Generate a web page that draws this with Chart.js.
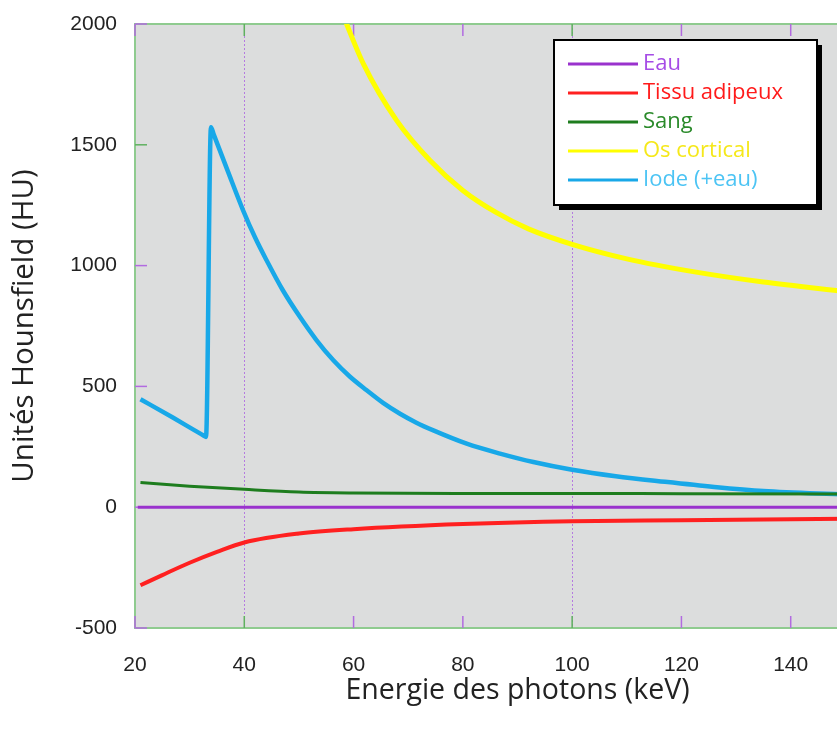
<!DOCTYPE html>
<html>
<head>
<meta charset="utf-8">
<script src="https://cdn.jsdelivr.net/npm/chart.js@4/dist/chart.umd.min.js"></script>
<style>
  body { margin: 0; background: #fff; }
  #cadre { width: 837px; height: 733px; overflow: hidden; }
</style>
</head>
<body>
<div id="cadre"><canvas id="graphHU" width="930" height="733"></canvas></div>
<script>
// valeurs (keV -> HU)
const eauKeV = [20.5, 150];
const eauHU = [0, 0];

const tissuKeV = [21, 25, 30, 35, 40, 50, 60, 80, 100, 120, 150];
const tissuHU = [-323, -281, -230, -185, -146, -109, -91, -70, -58, -54, -48];

const sangKeV = [21, 30, 40, 50, 60, 80, 100, 120, 150];
const sangHU = [102, 87, 74, 63, 59, 57, 57, 56, 55];

const osKeV = [58, 61.8, 67.9, 74, 80, 86, 92, 100, 110, 122.7, 135, 150];
const osHU = [2040, 1835, 1600, 1435, 1311, 1221, 1152, 1088, 1028, 973, 932, 893];

const iodeKeV = [21, 27, 31, 32.6, 33, 33.9, 34.4, 37, 39.8, 42, 44.1, 47, 50.2, 53.2, 56.3, 59.3, 62.4, 65.4, 68.5, 71.5, 74.6, 80.7, 86.8, 92.9, 100, 108, 117, 126, 135, 150];
const iodeHU = [447, 370, 317, 296, 291, 1573, 1543, 1390, 1228, 1115, 1021, 900, 787, 692, 608, 541, 484, 432, 387, 350, 318, 263, 222, 187, 155, 128, 105, 84, 67, 52];

const seriesNoms = ['Eau', 'Tissu adipeux', 'Sang', 'Os cortical', 'Iode (+eau)'];
const couleursLignes = ['#9a32cd', '#ff2020', '#1e7d1e', '#ffff00', '#18a8e8'];
const couleursTextes = ['#a64ce6', '#ff1a1a', '#2a8a2a', '#f5e81a', '#4cc4f4'];
const epaisseurs = [3, 4, 3, 5, 4.5];

const xTicks = [20, 40, 60, 80, 100, 120, 140, 160];
const yTicks = [-500, 0, 500, 1000, 1500, 2000];

function points(xs, ys) {
  return xs.map((x, i) => ({ x: x, y: ys[i] }));
}

// fond gris, cadre vert et petites graduations intérieures
const cadrePlugin = {
  id: 'cadre',
  beforeDraw(chart) {
    const { ctx, chartArea: a } = chart;
    ctx.save();
    ctx.fillStyle = '#dcdddd';
    ctx.fillRect(a.left, a.top, a.right - a.left, a.bottom - a.top);
    ctx.restore();
  },
  beforeDatasetsDraw(chart) {
    const { ctx, chartArea: a, scales } = chart;
    ctx.save();
    ctx.strokeStyle = '#8fcb8f';
    ctx.lineWidth = 2;
    ctx.strokeRect(a.left, a.top, a.right - a.left, a.bottom - a.top);
    ctx.lineWidth = 1.5;
    xTicks.forEach(v => {
      const px = scales.x.getPixelForValue(v);
      ctx.strokeStyle = (v === 40 || v === 100) ? '#5fb05f' : '#b26be0';
      ctx.beginPath();
      ctx.moveTo(px, a.bottom); ctx.lineTo(px, a.bottom - 12);
      ctx.moveTo(px, a.top); ctx.lineTo(px, a.top + 12);
      ctx.stroke();
    });
    yTicks.forEach(v => {
      const py = scales.y.getPixelForValue(v);
      ctx.strokeStyle = (v === 1500) ? '#5fb05f' : '#b26be0';
      ctx.beginPath();
      ctx.moveTo(a.left, py); ctx.lineTo(a.left + 12, py);
      ctx.stroke();
    });
    ctx.restore();
  },
  afterDraw(chart) {
    const { ctx } = chart;
    const bx = 554, by = 40, bw = 263, bh = 165;
    ctx.save();
    ctx.fillStyle = '#000';
    ctx.fillRect(bx + 5, by + 5, bw, bh);
    ctx.fillStyle = '#fff';
    ctx.fillRect(bx, by, bw, bh);
    ctx.strokeStyle = '#000';
    ctx.lineWidth = 2;
    ctx.strokeRect(bx, by, bw, bh);
    ctx.font = '22px "Open Sans"';
    ctx.textBaseline = 'middle';
    chart.data.datasets.forEach((ds, i) => {
      const y = by + 24 + i * 29;
      ctx.strokeStyle = ds.borderColor;
      ctx.lineWidth = 3;
      ctx.beginPath();
      ctx.moveTo(bx + 14, y); ctx.lineTo(bx + 84, y);
      ctx.stroke();
      ctx.fillStyle = couleursTextes[i];
      ctx.fillText(ds.label, bx + 89, y);
    });
    ctx.restore();
  }
};

const toutes = [
  [eauKeV, eauHU], [tissuKeV, tissuHU], [sangKeV, sangHU], [osKeV, osHU], [iodeKeV, iodeHU]
];

new Chart(document.getElementById('graphHU'), {
  type: 'line',
  data: {
    datasets: toutes.map((s, i) => ({
      label: seriesNoms[i],
      data: points(s[0], s[1]),
      borderColor: couleursLignes[i],
      borderWidth: epaisseurs[i],
      pointRadius: 0,
      fill: false,
      tension: 0.4,
      cubicInterpolationMode: 'monotone'
    }))
  },
  options: {
    responsive: false,
    animation: false,
    layout: { padding: { top: 24, right: 30, left: 0, bottom: 0 } },
    plugins: { legend: { display: false }, tooltip: { enabled: false } },
    scales: {
      x: {
        type: 'linear',
        min: 20,
        max: 160,
        afterFit: s => { s.height = 105; s.paddingLeft = 0; s.paddingRight = 0; },
        afterBuildTicks: s => { s.ticks = xTicks.map(v => ({ value: v })); },
        ticks: {
          padding: 25,
          color: '#222',
          font: { family: '"Liberation Sans"', size: 21 },
          callback: v => String(v)
        },
        grid: {
          drawTicks: false,
          lineWidth: 1,
          color: c => (c.tick && (c.tick.value === 40 || c.tick.value === 100)) ? '#b57be0' : 'rgba(0,0,0,0)'
        },
        border: { display: false, dash: [2, 2] },
        title: {
          display: true,
          text: 'Energie des photons (keV)',
          color: '#222',
          font: { family: '"Open Sans"', size: 28.5 },
          padding: { top: 0, bottom: 25 }
        }
      },
      y: {
        min: -500,
        max: 2000,
        afterFit: s => { s.width = 135; s.paddingTop = 0; s.paddingBottom = 0; },
        afterBuildTicks: s => { s.ticks = yTicks.map(v => ({ value: v })); },
        ticks: {
          padding: 18,
          color: '#222',
          font: { family: '"Liberation Sans"', size: 21 },
          callback: v => String(v)
        },
        grid: { display: false, drawTicks: false },
        border: { display: false },
        title: {
          display: true,
          text: 'Unités Hounsfield (HU)',
          color: '#222',
          font: { family: '"Open Sans"', size: 29.5 },
          padding: { top: 7, bottom: 0 }
        }
      }
    }
  },
  plugins: [cadrePlugin]
});
</script>
</body>
</html>
